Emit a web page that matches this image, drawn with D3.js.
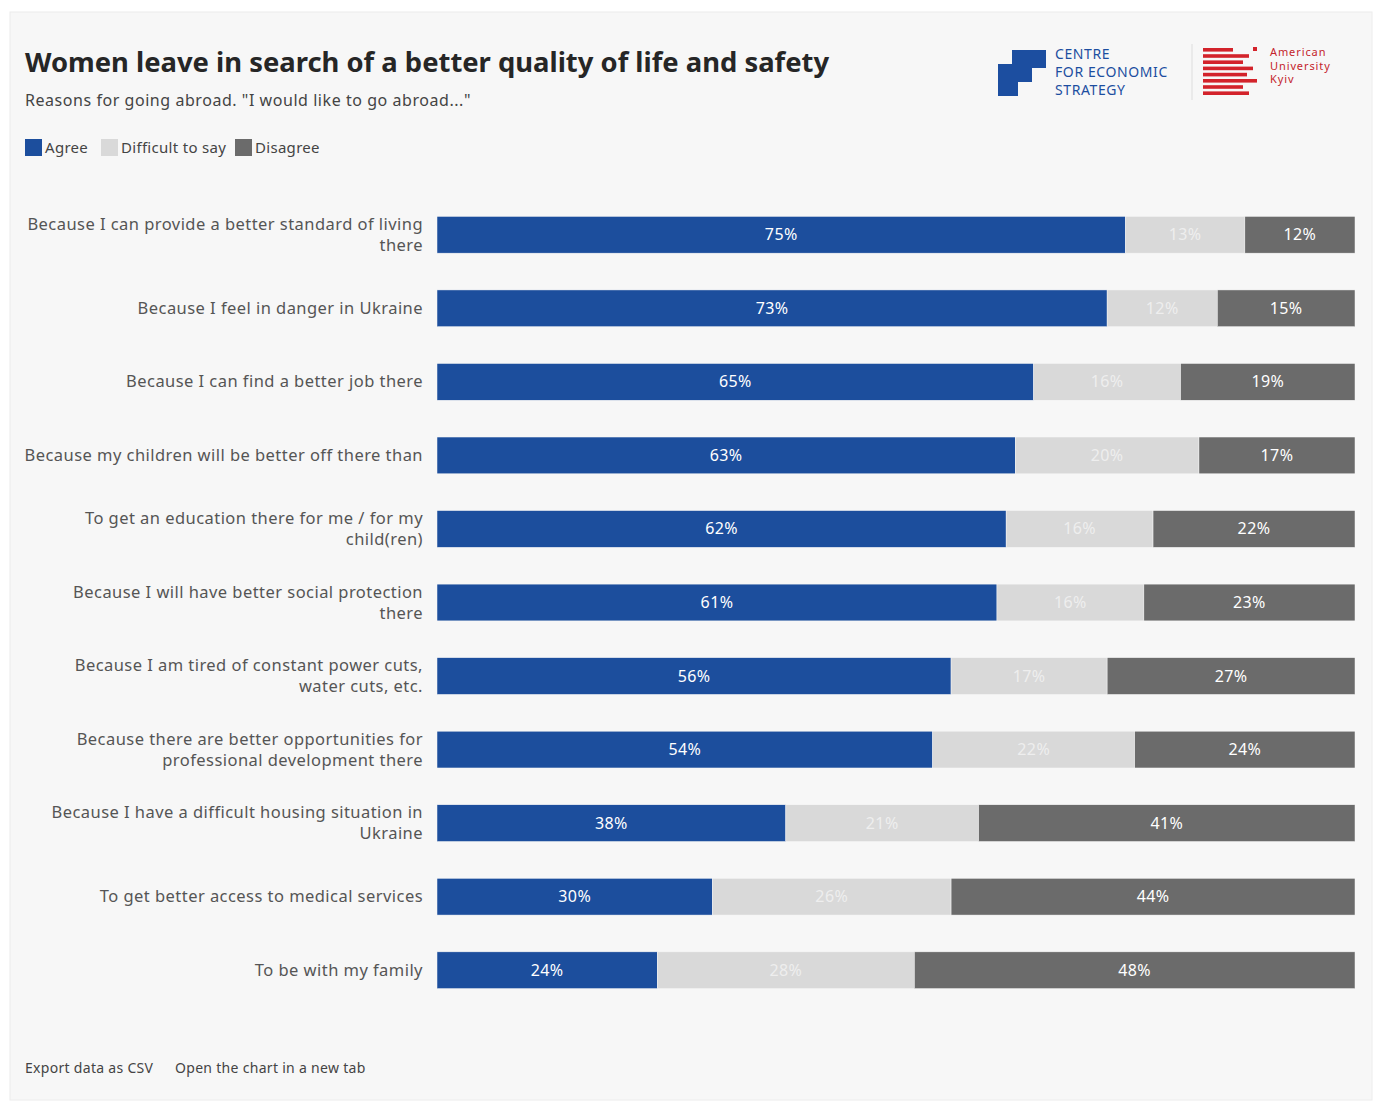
<!DOCTYPE html>
<html><head><meta charset="utf-8">
<script src="https://cdn.jsdelivr.net/npm/d3@7"></script>
<style>
html,body{margin:0;padding:0;background:#fff;}
svg{display:block;}
</style></head>
<body>
<svg id="c" width="1374" height="1104"></svg>
<script>
const categories = [
  ["Because I can provide a better standard of living", "there"],
  ["Because I feel in danger in Ukraine"],
  ["Because I can find a better job there"],
  ["Because my children will be better off there than"],
  ["To get an education there for me / for my", "child(ren)"],
  ["Because I will have better social protection", "there"],
  ["Because I am tired of constant power cuts,", "water cuts, etc."],
  ["Because there are better opportunities for", "professional development there"],
  ["Because I have a difficult housing situation in", "Ukraine"],
  ["To get better access to medical services"],
  ["To be with my family"]
];
const agree     = [75, 73, 65, 63, 62, 61, 56, 54, 38, 30, 24];
const difficult = [13, 12, 16, 20, 16, 16, 17, 22, 21, 26, 28];
const disagree  = [12, 15, 19, 17, 22, 23, 27, 24, 41, 44, 48];
const seriesNames = ["Agree", "Difficult to say", "Disagree"];
const colors = ["#1c4e9d", "#d9d9d9", "#6b6b6b"];

const svg = d3.select("#c");
const font = "'Noto Sans', 'Open Sans', sans-serif";

// card
svg.append("rect").attr("x",10).attr("y",12).attr("width",1362).attr("height",1088)
  .attr("fill","#f7f7f7").attr("stroke","#ececec");

svg.append("text").attr("x",25).attr("y",72).text("Women leave in search of a better quality of life and safety")
  .attr("font-family",font).attr("font-weight",700).attr("font-size",27.4).attr("fill","#262626");
svg.append("text").attr("x",25).attr("y",106).text("Reasons for going abroad. \"I would like to go abroad...\"")
  .attr("font-family",font).attr("font-size",16).attr("letter-spacing",0.55).attr("fill","#444");

// legend
const legX = [25, 101, 235];
seriesNames.forEach((n,i)=>{
  svg.append("rect").attr("x",legX[i]).attr("y",139).attr("width",17).attr("height",17).attr("fill",colors[i]);
  svg.append("text").attr("x",legX[i]+20).attr("y",153).text(n)
    .attr("font-family",font).attr("font-size",15).attr("letter-spacing",0.3).attr("fill","#444");
});

// logos
const lg = svg.append("g");
[[998,78],[1012,64],[1026,50]].forEach(([x,y])=>{
  lg.append("rect").attr("x",x).attr("y",y).attr("width",20).attr("height",18).attr("fill","#1c4ea0");
});
lg.append("rect").attr("x",998).attr("y",64).attr("width",14).attr("height",32).attr("fill","#1c4ea0");
lg.append("rect").attr("x",1012).attr("y",50).attr("width",14).attr("height",32).attr("fill","#1c4ea0");
["CENTRE","FOR ECONOMIC","STRATEGY"].forEach((t,i)=>{
  lg.append("text").attr("x",1055).attr("y",59+i*18).text(t)
    .attr("font-family",font).attr("font-size",14).attr("letter-spacing",0.6).attr("fill","#1c4ea0");
});
lg.append("line").attr("x1",1192).attr("x2",1192).attr("y1",44).attr("y2",100).attr("stroke","#ddd");
const stripeW = [30,46,40,50,44,54,40,46];
stripeW.forEach((w,i)=>{
  lg.append("rect").attr("x",1203).attr("y",48+i*6.2).attr("width",w).attr("height",3.6).attr("fill","#d3232b");
});
lg.append("rect").attr("x",1253).attr("y",47).attr("width",4).attr("height",4).attr("fill","#d3232b");
["American","University","Kyiv"].forEach((t,i)=>{
  lg.append("text").attr("x",1270).attr("y",56+i*13.5).text(t)
    .attr("font-family",font).attr("font-size",11).attr("letter-spacing",0.9).attr("fill","#c4242b");
});

// chart
const x = d3.scaleLinear().domain([0,100]).range([437,1355]);
const y = d3.scaleBand().domain(d3.range(categories.length)).range([198,1007]).paddingInner(0.5).paddingOuter(0.25);

const rows = categories.map((c,i)=>({i, vals:[agree[i],difficult[i],disagree[i]]}));
const g = svg.append("g");
rows.forEach(r=>{
  let cum = 0;
  r.vals.forEach((v,k)=>{
    const x0 = x(cum), x1 = x(cum+v);
    g.append("rect").attr("x",x0).attr("y",y(r.i)).attr("width",x1-x0).attr("height",y.bandwidth())
      .attr("fill",colors[k]).attr("stroke","#f7f7f7").attr("stroke-width",0.5);
    g.append("text").attr("x",(x0+x1)/2).attr("y",y(r.i)+y.bandwidth()/2+5.5)
      .attr("text-anchor","middle").text(v+"%")
      .attr("font-family",font).attr("font-size",16).attr("letter-spacing",0.4)
      .attr("fill", k===1 ? "#eeeeee" : "#ffffff");
    cum += v;
  });
  const lines = categories[r.i];
  const cy = y(r.i)+y.bandwidth()/2;
  const t = svg.append("text").attr("text-anchor","end")
    .attr("font-family",font).attr("font-size",16.5).attr("letter-spacing",0.45).attr("fill","#555");
  lines.forEach((ln,j)=>{
    t.append("tspan").attr("x",423).attr("y", cy + 5.5 + (j - (lines.length-1)/2)*21).text(ln);
  });
});

// footer links
svg.append("text").attr("x",25).attr("y",1073).text("Export data as CSV")
  .attr("font-family",font).attr("font-size",14).attr("letter-spacing",0.3).attr("fill","#444");
svg.append("text").attr("x",175).attr("y",1073).text("Open the chart in a new tab")
  .attr("font-family",font).attr("font-size",14).attr("letter-spacing",0.3).attr("fill","#444");
</script>
</body></html>
